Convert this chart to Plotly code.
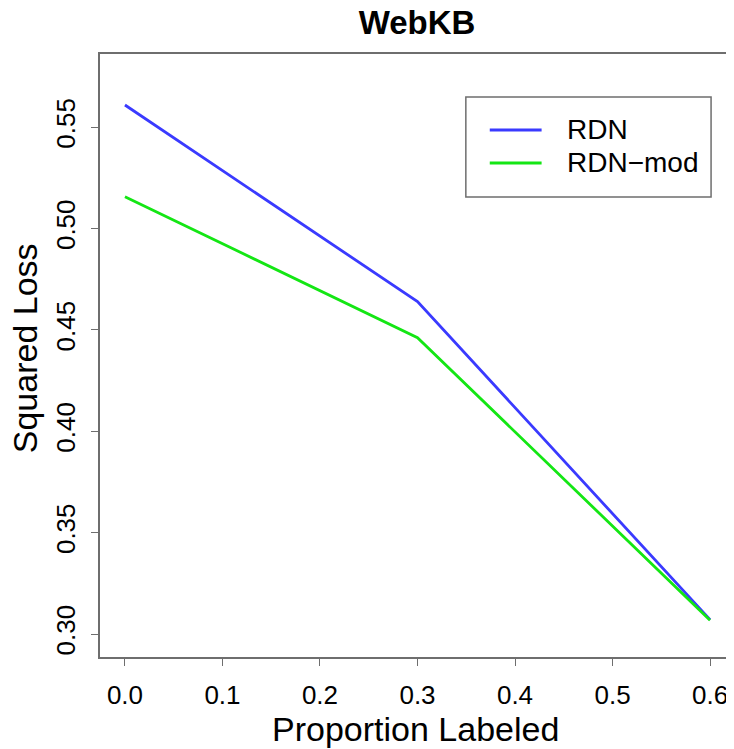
import plotly.graph_objects as go

proportion = [0.0, 0.3, 0.6]
rdn = [0.561, 0.464, 0.3071]
rdn_mod = [0.5158, 0.4462, 0.3068]

series_names = ["RDN", "RDN\u2212mod"]
series_colors = ["#3a3aff", "#14e614"]

x_ticks = [0.0, 0.1, 0.2, 0.3, 0.4, 0.5, 0.6]
y_ticks = [0.30, 0.35, 0.40, 0.45, 0.50, 0.55]

font_name = "Liberation Sans, Arial, Helvetica, sans-serif"

# page body has an 8px margin, so the figure is a bit smaller than the window
W, H = 726, 741
L, R, T, B = 92, 1, 46, 92
pw, ph = W - L - R, H - T - B


def px(x):
    # page x pixel -> paper coordinate
    return (x - 8 - L) / pw


def py(y):
    # page y pixel -> paper coordinate
    return (H - B + 8 - y) / ph


fig = go.Figure()
for name, ys, col in zip(series_names, [rdn, rdn_mod], series_colors):
    fig.add_trace(go.Scatter(x=proportion, y=ys, mode="lines", name=name,
                             line=dict(color=col, width=2.8), showlegend=False))

# legend box in the style of R's legend()
shapes = [dict(type="rect", xref="paper", yref="paper",
               x0=px(467), x1=px(713), y0=py(197), y1=py(97),
               line=dict(color="#6e6e6e", width=1.5), fillcolor="white", layer="above")]
annotations = []
for i, (name, col) in enumerate(zip(series_names, series_colors)):
    yy = py(130 + i * 33)
    shapes.append(dict(type="line", xref="paper", yref="paper",
                       x0=px(491), x1=px(543), y0=yy, y1=yy,
                       line=dict(color=col, width=2.8), layer="above"))
    annotations.append(dict(text=name, xref="paper", yref="paper", x=px(566), y=yy,
                            xanchor="left", yanchor="middle", showarrow=False,
                            font=dict(size=28)))

annotations.append(dict(text="Proportion Labeled", xref="paper", yref="paper",
                        x=px(417), y=py(729), xanchor="center", yanchor="middle",
                        showarrow=False, font=dict(size=34)))
annotations.append(dict(text="Squared Loss", xref="paper", yref="paper",
                        x=px(25), y=py(348), xanchor="center", yanchor="middle",
                        textangle=-90, showarrow=False, font=dict(size=34)))

fig.update_layout(
    width=W, height=H,
    margin=dict(l=L, r=R, t=T, b=B),
    paper_bgcolor="white", plot_bgcolor="white",
    font=dict(family=font_name, color="black", size=26),
    title=dict(text="<b>WebKB</b>", x=(417 - 8) / W, xanchor="center",
               y=1 - (22 - 8) / H, yanchor="middle", font=dict(size=33)),
    shapes=shapes,
    annotations=annotations,
)
fig.update_xaxes(
    range=[-0.0256, 0.6215], tickvals=x_ticks, ticktext=[f"{v:.1f}" for v in x_ticks],
    showgrid=False, zeroline=False, showline=True, mirror=True,
    linecolor="#6e6e6e", linewidth=1.5, ticks="outside", ticklen=7, tickcolor="#6e6e6e",
    tickfont=dict(size=26), ticklabelstandoff=7,
)
fig.update_yaxes(
    range=[0.28865, 0.58618], tickvals=y_ticks, ticktext=[f"{v:.2f}" for v in y_ticks],
    showgrid=False, zeroline=False, showline=True, mirror=True,
    linecolor="#6e6e6e", linewidth=1.5, ticks="outside", ticklen=7, tickcolor="#6e6e6e",
    tickfont=dict(size=26), tickangle=-90, ticklabelstandoff=6,
)

fig.write_html("out.html")
